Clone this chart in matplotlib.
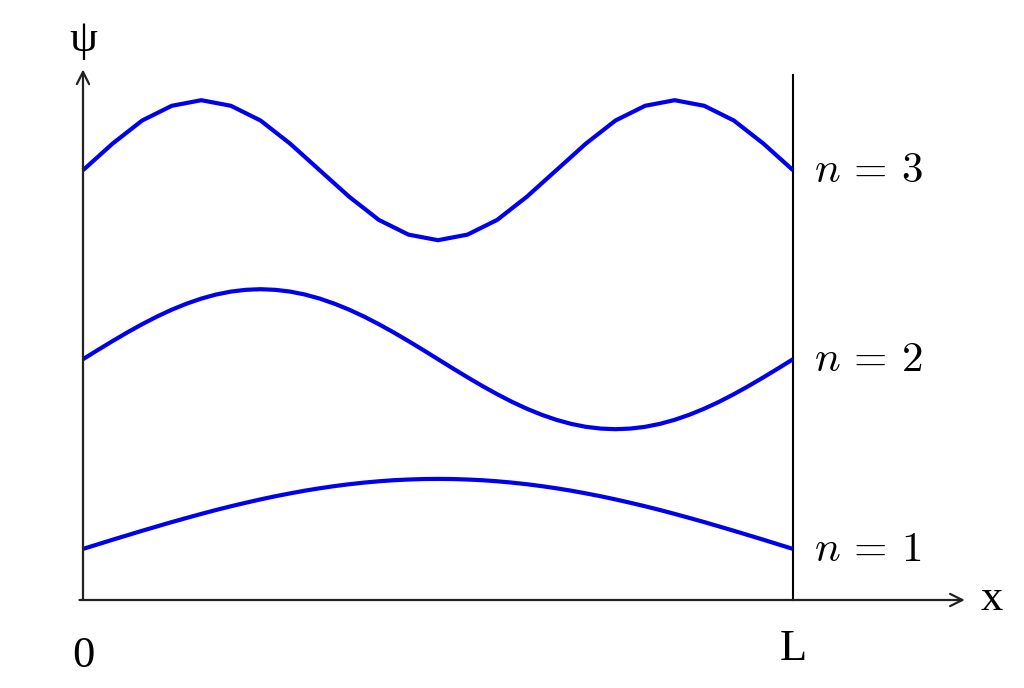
import numpy as np
import matplotlib
matplotlib.use("Agg")
import matplotlib.pyplot as plt

# wavefunction curves (x in units of L, psi in units of amplitude)
psi_n1 = [0.730, 0.795, 0.861, 0.925, 0.989, 1.051, 1.113, 1.172, 1.230, 1.286, 1.339, 1.389,
          1.437, 1.482, 1.523, 1.562, 1.596, 1.627, 1.654, 1.677, 1.696, 1.711, 1.721, 1.728,
          1.730,
          1.728, 1.721, 1.711, 1.696, 1.677, 1.654, 1.627, 1.596, 1.562, 1.523, 1.482, 1.437,
          1.389, 1.339, 1.286, 1.230, 1.172, 1.113, 1.051, 0.989, 0.925, 0.861, 0.795, 0.730]
psi_n2 = [3.440, 3.571, 3.699, 3.823, 3.940, 4.049, 4.147, 4.233, 4.306, 4.364, 4.406, 4.431,
          4.440,
          4.431, 4.406, 4.364, 4.306, 4.233, 4.147, 4.049, 3.940, 3.823, 3.699, 3.571, 3.440,
          3.309, 3.181, 3.057, 2.940, 2.831, 2.733, 2.647, 2.574, 2.516, 2.474, 2.449,
          2.440,
          2.449, 2.474, 2.516, 2.574, 2.647, 2.733, 2.831, 2.940, 3.057, 3.181, 3.309, 3.440]
psi_n3 = [6.14, 6.52, 6.85, 7.06, 7.14, 7.06, 6.85, 6.52, 6.14, 5.76, 5.43, 5.22, 5.14,
          5.22, 5.43, 5.76, 6.14, 6.52, 6.85, 7.06, 7.14, 7.06, 6.85, 6.52, 6.14]
labels = [r"$n\,=\,1$", r"$n\,=\,2$", r"$n\,=\,3$"]
label_y = [0.73, 3.44, 6.14]

plt.rcParams['mathtext.fontset'] = 'cm'
serif = "Liberation Serif"

fig = plt.figure(figsize=(10.24, 6.88), dpi=100)
ax = fig.add_axes([0, 0, 1, 1])
# pixel layout: x=0 at 83px, x=L at 793px; psi=0 at 600px from top, 70px per unit
ax.set_xlim(-83 / 710, (1024 - 83) / 710)
ax.set_ylim(-88 / 70, (688 - 88) / 70)
ax.axis("off")

for ys in (psi_n1, psi_n2, psi_n3):
    xs = np.linspace(0, 1, len(ys))
    ax.plot(xs, ys, color="#0000ee", lw=3.0, solid_capstyle="butt", zorder=3)

# axes with arrows
ax.annotate("", xy=(0, 7.58), xytext=(0, 0),
            arrowprops=dict(arrowstyle="->", lw=1.6, color="#222222",
                            mutation_scale=22, shrinkA=0, shrinkB=0))
ax.annotate("", xy=(1.242, 0), xytext=(-0.005, 0),
            arrowprops=dict(arrowstyle="->", lw=1.6, color="#222222",
                            mutation_scale=22, shrinkA=0, shrinkB=0))
ax.plot([1, 1], [0, 7.5], color="black", lw=1.5)

ax.text(0, 8.0, "ψ", fontsize=32, family=serif, ha="center", va="center")
ax.text(1.28, 0.01, "x", fontsize=32, family=serif, ha="center", va="center")
ax.text(0, -0.8, "0", fontsize=32, family=serif, ha="center", va="center")
ax.text(1, -0.7, "L", fontsize=32, family=serif, ha="center", va="center")

for lab, yv in zip(labels, label_y):
    ax.text(1.03, yv, lab, fontsize=31, ha="left", va="center")

fig.savefig("out.png", dpi=100)
